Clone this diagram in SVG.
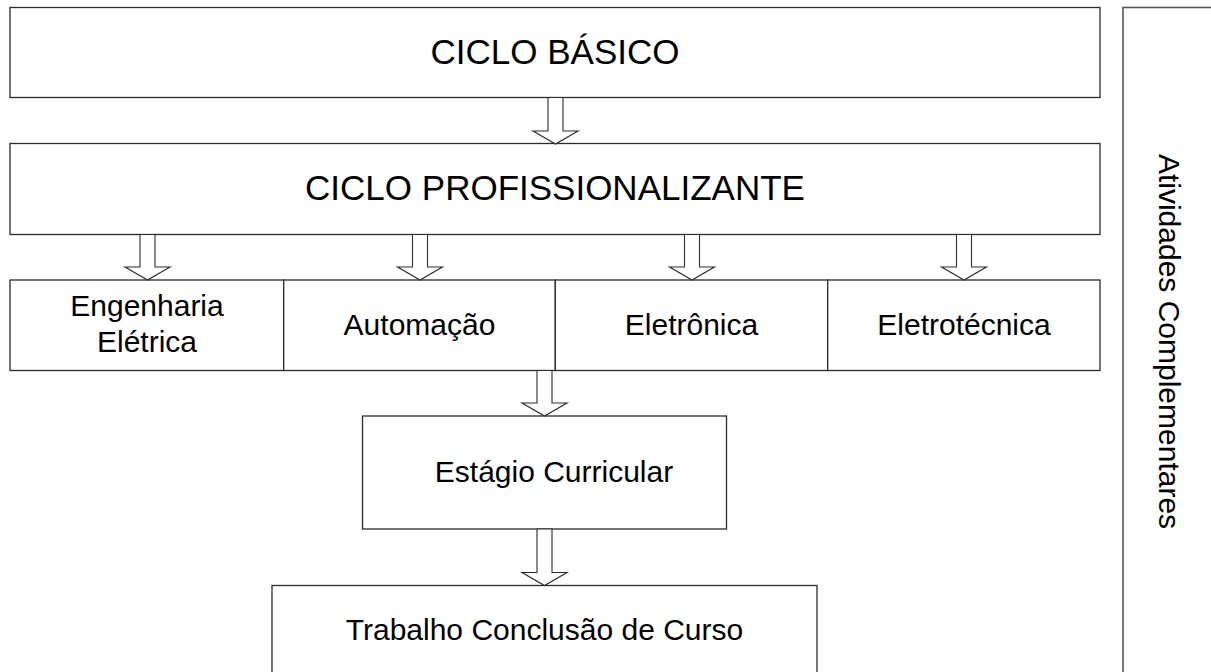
<svg xmlns="http://www.w3.org/2000/svg" width="1211" height="672" viewBox="0 0 1211 672">
<style>
.box{fill:#ffffff;stroke:#2a2a2a;stroke-width:1.3}
.side{fill:#ffffff;stroke:#555555;stroke-width:1.6}
.arr{fill:#ffffff;stroke:#2a2a2a;stroke-width:1.1;stroke-linejoin:miter}
text{font-family:"Liberation Sans",Arial,sans-serif;fill:#000000;text-anchor:middle}
.big{font-size:35px}
.mid{font-size:30px}
</style>
<rect width="1211" height="672" fill="#ffffff"/>
<g id="ciclo-basico">
<rect class="box" x="10" y="7.5" width="1090" height="90"/>
<text class="big" x="555" y="64">CICLO BÁSICO</text>
</g>
<g id="ciclo-profissionalizante">
<rect class="box" x="10" y="143.5" width="1090" height="91"/>
<text class="big" x="555" y="200">CICLO PROFISSIONALIZANTE</text>
</g>
<g id="engenharia-eletrica">
<rect class="box" x="10" y="280" width="273.7" height="90.5"/>
<text class="mid" x="147" y="315.5">Engenharia</text>
<text class="mid" x="147" y="351.5">Elétrica</text>
</g>
<g id="automacao">
<rect class="box" x="283.7" y="280" width="271.6" height="90.5"/>
<text class="mid" x="419.5" y="334.5">Automação</text>
</g>
<g id="eletronica">
<rect class="box" x="555.3" y="280" width="272.4" height="90.5"/>
<text class="mid" x="691.5" y="334.5">Eletrônica</text>
</g>
<g id="eletrotecnica">
<rect class="box" x="827.7" y="280" width="272.3" height="90.5"/>
<text class="mid" x="964" y="334.5">Eletrotécnica</text>
</g>
<g id="estagio-curricular">
<rect class="box" x="362.5" y="416" width="364" height="113"/>
<text class="mid" x="554" y="481.5">Estágio Curricular</text>
</g>
<g id="trabalho-conclusao">
<rect class="box" x="272" y="585.5" width="545" height="100"/>
<text class="mid" x="544.5" y="639.5">Trabalho Conclusão de Curso</text>
</g>
<g id="atividades-complementares">
<rect class="side" x="1123" y="7.5" width="120" height="700"/>
<text class="mid" transform="translate(1159,341.5) rotate(90)" x="0" y="0">Atividades Complementares</text>
</g>
<g id="connectors">
<polygon class="arr" points="548,97.5 563,97.5 563,131 578,131 555.5,144 533,131 548,131"/>
<polygon class="arr" points="140,234.5 155,234.5 155,267 170,267 147.5,280 125,267 140,267"/>
<polygon class="arr" points="412.5,234.5 427.5,234.5 427.5,267 442.5,267 420,280 397.5,267 412.5,267"/>
<polygon class="arr" points="684.5,234.5 699.5,234.5 699.5,267 714.5,267 692,280 669.5,267 684.5,267"/>
<polygon class="arr" points="956.5,234.5 971.5,234.5 971.5,267 986.5,267 964,280 941.5,267 956.5,267"/>
<polygon class="arr" points="537,370.5 552,370.5 552,403 567,403 544.5,416 522,403 537,403"/>
<polygon class="arr" points="537,529 552,529 552,572.5 567,572.5 544.5,585.5 522,572.5 537,572.5"/>
</g>
</svg>
